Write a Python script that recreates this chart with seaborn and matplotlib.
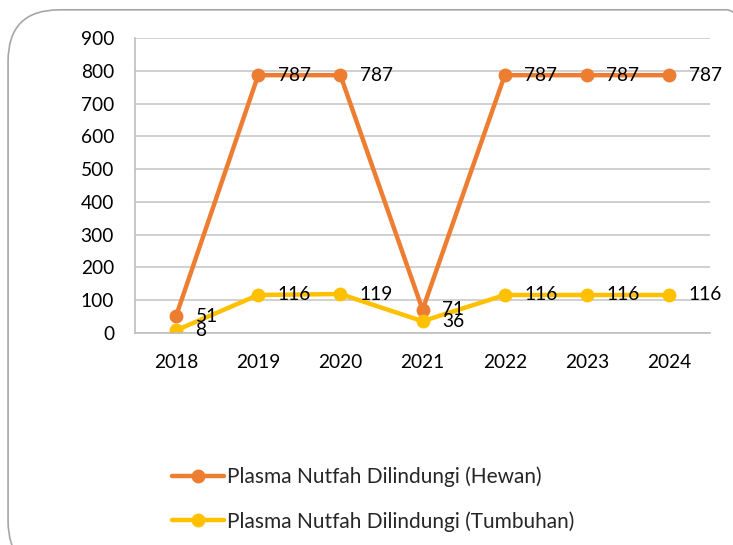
import numpy as np
import pandas as pd
import matplotlib
matplotlib.use('Agg')
from matplotlib import pyplot as plt
from matplotlib.patches import FancyBboxPatch
import seaborn as sb

sb.set_theme(style='white')
plt.rcParams['font.family'] = ['Lato', 'DejaVu Sans']

years = ['2018', '2019', '2020', '2021', '2022', '2023', '2024']
hewan = [51, 787, 787, 71, 787, 787, 787]
tumbuhan = [8, 116, 119, 36, 116, 116, 116]
series_names = ['Plasma Nutfah Dilindungi (Hewan)', 'Plasma Nutfah Dilindungi (Tumbuhan)']
colors = ['#ED7D31', '#FFC000']

df = pd.DataFrame({
    'pos': list(range(len(years))) * 2,
    'value': hewan + tumbuhan,
    'series': [series_names[0]] * len(years) + [series_names[1]] * len(years),
})

fig = plt.figure(figsize=(7.33, 5.45), dpi=100)
ax = fig.add_axes([0.184, 0.389, 0.785, 0.541])

# rounded chart frame like the spreadsheet chart area
frame = FancyBboxPatch((0.011, -0.05), 1.05, 1.032, boxstyle='round,pad=0,rounding_size=0.07',
                       transform=fig.transFigure, facecolor='none', edgecolor='#A6A6A6',
                       linewidth=1.2, mutation_aspect=733 / 545, zorder=0)
fig.patches.append(frame)

sb.lineplot(data=df, x='pos', y='value', hue='series', palette=colors, marker='o',
            markersize=10, markeredgewidth=0, linewidth=3.2, ax=ax, legend=False)

# data labels
for vals in (hewan, tumbuhan):
    for i, v in enumerate(vals):
        ax.annotate(str(v), (i, v), xytext=(14, 0), textcoords='offset points',
                    ha='left', va='center', fontsize=13.8, color='#000000')

ax.set_xlim(-0.5, len(years) - 0.5)
ax.set_ylim(0, 900)
ax.set_yticks(range(0, 901, 100))
ax.set_xticks(range(len(years)))
ax.set_xticklabels(years)
ax.set_xlabel('')
ax.set_ylabel('')
ax.grid(axis='y', color='#C8C8C8', linewidth=1.2)
ax.set_axisbelow(True)
for s in ['top', 'right']:
    ax.spines[s].set_visible(False)
for s in ['left', 'bottom']:
    ax.spines[s].set_color('#BFBFBF')
    ax.spines[s].set_linewidth(1.2)
ax.tick_params(axis='x', length=0, pad=15, labelsize=13.8, labelcolor='#000000')
ax.tick_params(axis='y', length=0, pad=15, labelsize=13.8, labelcolor='#000000')

handles = [plt.Line2D([], [], color=c, linewidth=3.2, marker='o', markersize=10,
                      markeredgewidth=0) for c in colors]
fig.legend(handles, series_names, loc='upper left', bbox_to_anchor=(0.235, 0.144),
           frameon=False, fontsize=15, handlelength=2.5, handletextpad=0.15,
           labelspacing=1.15, borderpad=0, borderaxespad=0, labelcolor='#262626')

plt.savefig('out.png', dpi=100)
